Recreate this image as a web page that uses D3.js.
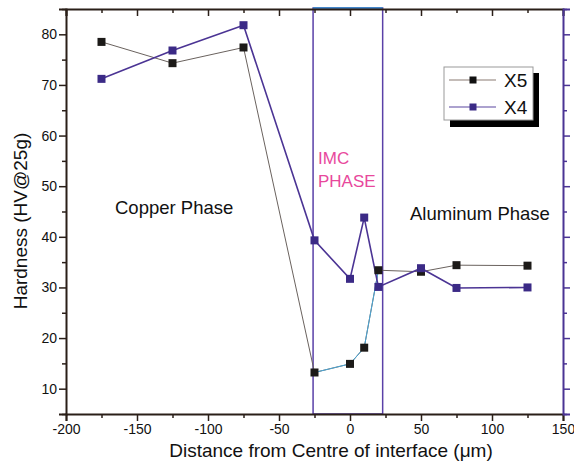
<!DOCTYPE html>
<html>
<head>
<meta charset="utf-8">
<script src="https://cdn.jsdelivr.net/npm/d3@7"></script>
<style>
  body { margin: 0; background: #fff; }
  svg { font-family: "Liberation Sans", Arial, sans-serif; }
</style>
</head>
<body>
<svg id="chart" width="574" height="461"></svg>
<script>
const distances = [-175, -125, -75, -25, 0, 10, 20, 50, 75, 125];
const x5Values = [78.5, 74.3, 77.4, 13.2, 14.9, 18.1, 33.4, 33.1, 34.4, 34.3];
const x4Values = [71.2, 76.8, 81.8, 39.3, 31.7, 43.8, 30.1, 33.8, 29.9, 30.0];
const xTicks = [-200, -150, -100, -50, 0, 50, 100, 150];
const yTicks = [10, 20, 30, 40, 50, 60, 70, 80];
const imcRange = [-26, 23];

const svg = d3.select("#chart");
const x = d3.scaleLinear().domain([-200, 150]).range([66, 563]);
const y = d3.scaleLinear().domain([5, 85]).range([414, 9]);

const dark = "#2a1f18", purple = "#4b3494";

const minorX = d3.range(-200, 151, 25).filter(v => v % 50 !== 0);
const minorY = d3.range(5, 86, 5).filter(v => v % 10 !== 0);

function styleAxis(g, color, width) {
    g.select(".domain").attr("stroke", color).attr("stroke-width", width);
    g.selectAll(".tick line").attr("stroke", color).attr("stroke-width", 1.5);
    g.selectAll("text").attr("fill", "#111").style("font-size", "14px")
        .style("font-family", "Liberation Sans, Arial, sans-serif");
}

// IMC phase box
svg.append("rect")
    .attr("x", x(imcRange[0])).attr("y", 8)
    .attr("width", x(imcRange[1]) - x(imcRange[0]))
    .attr("height", 414 - 8)
    .attr("fill", "none").attr("stroke", "#5a40a8").attr("stroke-width", 1.5);
svg.append("line")
    .attr("x1", x(imcRange[0])).attr("x2", x(imcRange[1]))
    .attr("y1", 8).attr("y2", 8)
    .attr("stroke", "#2f8fd0").attr("stroke-width", 1.5);

// bottom axis
svg.append("g").attr("transform", "translate(0,414)")
    .call(d3.axisBottom(x).tickValues(xTicks).tickSize(7).tickPadding(3).tickFormat(d => String(d)))
    .call(g => styleAxis(g, dark, 2));
svg.append("g").attr("transform", "translate(0,414)")
    .call(d3.axisBottom(x).tickValues(minorX).tickSize(4).tickFormat(""))
    .call(g => { g.select(".domain").remove(); g.selectAll("line").attr("stroke", dark).attr("stroke-width", 1.5); });

// top axis (ticks inward)
svg.append("g").attr("transform", "translate(0,9)")
    .call(d3.axisTop(x).tickValues(xTicks).tickSize(-7).tickFormat(""))
    .call(g => styleAxis(g, dark, 2));
svg.append("g").attr("transform", "translate(0,9)")
    .call(d3.axisTop(x).tickValues(minorX).tickSize(-4).tickFormat(""))
    .call(g => { g.select(".domain").remove(); g.selectAll("line").attr("stroke", dark).attr("stroke-width", 1.5); });

// left axis
svg.append("g").attr("transform", "translate(66,0)")
    .call(d3.axisLeft(y).tickValues(yTicks).tickSize(7).tickPadding(2))
    .call(g => styleAxis(g, dark, 2));
svg.append("g").attr("transform", "translate(66,0)")
    .call(d3.axisLeft(y).tickValues(minorY).tickSize(4).tickFormat(""))
    .call(g => { g.select(".domain").remove(); g.selectAll("line").attr("stroke", dark).attr("stroke-width", 1.5); });

// right axis (purple, no labels)
svg.append("g").attr("transform", "translate(563,0)")
    .call(d3.axisRight(y).tickValues(yTicks).tickSize(7).tickFormat(""))
    .call(g => styleAxis(g, purple, 2));
svg.append("g").attr("transform", "translate(563,0)")
    .call(d3.axisRight(y).tickValues(minorY).tickSize(4).tickFormat(""))
    .call(g => { g.select(".domain").remove(); g.selectAll("line").attr("stroke", purple).attr("stroke-width", 1.5); });

const x5 = distances.map((d, i) => ({ d, v: x5Values[i] }));
const x4 = distances.map((d, i) => ({ d, v: x4Values[i] }));
const line = d3.line().x(p => x(p.d)).y(p => y(p.v));

svg.append("path").datum(x5).attr("d", line)
    .attr("fill", "none").attr("stroke", "#6a625e").attr("stroke-width", 1);
svg.append("path").datum(x5.filter(p => p.d >= -25 && p.d <= 20)).attr("d", line)
    .attr("fill", "none").attr("stroke", "#4aa6d6").attr("stroke-width", 1);
svg.append("path").datum(x4).attr("d", line)
    .attr("fill", "none").attr("stroke", purple).attr("stroke-width", 1.6);

const sz = 8;
svg.selectAll(".m5").data(x5).enter().append("rect")
    .attr("x", p => x(p.d) - sz / 2).attr("y", p => y(p.v) - sz / 2)
    .attr("width", sz).attr("height", sz).attr("fill", "#1c1a18");
svg.selectAll(".m4").data(x4).enter().append("rect")
    .attr("x", p => x(p.d) - sz / 2).attr("y", p => y(p.v) - sz / 2)
    .attr("width", sz).attr("height", sz).attr("fill", "#3b2a86");

// annotations
svg.append("text").attr("x", 318).attr("y", 164).attr("fill", "#e8489c")
    .style("font-size", "17px").text("IMC");
svg.append("text").attr("x", 318).attr("y", 187).attr("fill", "#e8489c")
    .style("font-size", "17px").text("PHASE");
svg.append("text").attr("x", 115).attr("y", 214).attr("fill", "#111")
    .style("font-size", "18.5px").text("Copper Phase");
svg.append("text").attr("x", 410).attr("y", 220).attr("fill", "#111")
    .style("font-size", "18.5px").text("Aluminum Phase");

// axis titles
svg.append("text").attr("x", 331).attr("y", 457).attr("text-anchor", "middle")
    .attr("fill", "#111").style("font-size", "19px")
    .text("Distance from Centre of interface (\u03bcm)");
svg.append("text").attr("transform", "translate(27,221) rotate(-90)")
    .attr("text-anchor", "middle").attr("fill", "#111").style("font-size", "19px")
    .text("Hardness (HV@25g)");

// legend
const lg = svg.append("g").attr("transform", "translate(444,67)");
lg.append("rect").attr("x", 6).attr("y", 6).attr("width", 89).attr("height", 54).attr("fill", "#000");
lg.append("rect").attr("x", 0).attr("y", 0).attr("width", 89).attr("height", 53)
    .attr("fill", "#fff").attr("stroke", "#999").attr("stroke-width", 1);
const entries = [
    { name: "X5", line: "#8a7b72", fill: "#111" },
    { name: "X4", line: "#5a46a0", fill: "#3b2a86" }
];
entries.forEach((e, i) => {
    const cy = 13 + i * 27;
    lg.append("line").attr("x1", 5).attr("x2", 52).attr("y1", cy).attr("y2", cy)
        .attr("stroke", e.line).attr("stroke-width", 1.2);
    lg.append("rect").attr("x", 29 - 3.5).attr("y", cy - 3.5).attr("width", 7).attr("height", 7)
        .attr("fill", e.fill);
    lg.append("text").attr("x", 60).attr("y", cy + 7).attr("fill", "#111")
        .style("font-size", "19px").text(e.name);
});
</script>
</body>
</html>
